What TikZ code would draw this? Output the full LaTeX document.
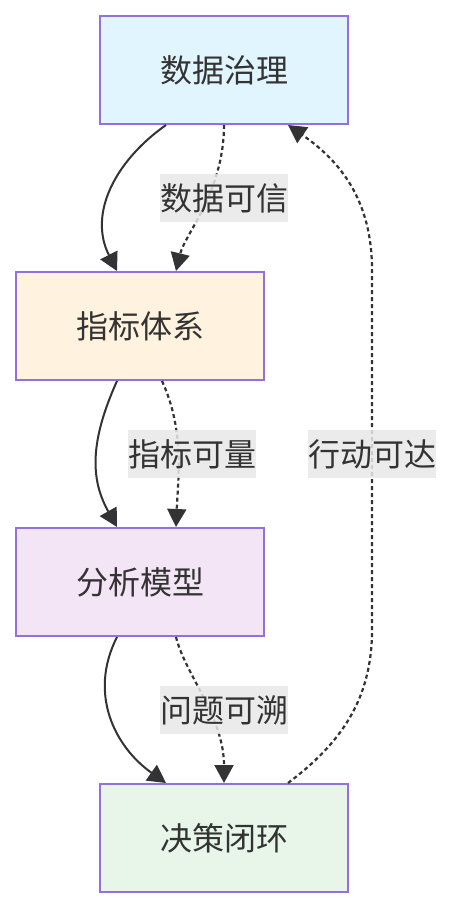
\documentclass[tikz,border=0pt]{standalone}
\usepackage{fontspec}
\newfontfamily\cjk{Noto Sans CJK SC}
\usetikzlibrary{arrows.meta,calc}
\definecolor{txt}{HTML}{333333}
\definecolor{edge}{HTML}{333333}
\definecolor{bord}{HTML}{9370DB}
\definecolor{fa}{HTML}{E1F5FE}
\definecolor{fb}{HTML}{FFF3E0}
\definecolor{fc}{HTML}{F3E5F5}
\definecolor{fd}{HTML}{E8F5E9}
\definecolor{lbg}{HTML}{E8E8E8}
\tikzset{
  box/.style={draw=bord, line width=2pt, rectangle, minimum width=248pt, minimum height=108pt, inner sep=0pt, text=txt, font=\cjk\fontsize{32}{38}\selectfont},
  solidedge/.style={draw=edge, line width=2pt, arrows={-Triangle[length=18pt,width=19pt]}},
  dotedge/.style={draw=edge, line width=2.2pt, dash pattern=on 4pt off 3pt, arrows={-Triangle[length=18pt,width=19pt]}},
  elabel/.style={fill=lbg, fill opacity=0.85, text opacity=1, text=txt, inner sep=0pt, minimum height=48pt, font=\cjk\fontsize{32}{38}\selectfont}
}
\begin{document}
\begin{tikzpicture}[x=1pt,y=-1pt]
\useasboundingbox (0,0) rectangle (453,908);
\node[box, fill=fa] (A) at (224,70) {数据治理};
\node[box, fill=fb] (B) at (140,326) {指标体系};
\node[box, fill=fc] (C) at (140,582) {分析模型};
\node[box, fill=fd] (D) at (224,838) {决策闭环};
% A -> B
\draw[solidedge] ($(A.south)+(-58,0)$) .. controls ($(A.south)+(-109,36)$) and ($(B.north)+(-52,-57)$) .. ($(B.north)+(-23,0)$);
\draw[dotedge] (A.south) .. controls ($(A.south)+(0,66)$) and ($(B.north)+(45,-37)$) .. ($(B.north)+(36,0)$);
% B -> C
\draw[solidedge] ($(B.south)+(-23,0)$) .. controls ($(B.south)+(-50,60)$) and ($(C.north)+(-50,-48)$) .. ($(C.north)+(-23,0)$);
\draw[dotedge] ($(B.south)+(22,0)$) .. controls ($(B.south)+(45,50)$) and ($(C.north)+(38,-48)$) .. ($(C.north)+(36,0)$);
% C -> D
\draw[solidedge] ($(C.south)+(-23,0)$) .. controls ($(C.south)+(-52,57)$) and ($(D.north)+(-109,-36)$) .. ($(D.north)+(-58,0)$);
\draw[dotedge] ($(C.south)+(36,0)$) .. controls ($(C.south)+(45,37)$) and ($(D.north)+(0,-66)$) .. (D.north);
% D -> A
\coordinate (r1) at (372,630);
\coordinate (r2) at (372,270);
\draw[dotedge] ($(D.north)+(64,0)$) .. controls ($(D.north)+(116,-39)$) and ($(r1)+(0,70)$) .. (r1) -- (r2) .. controls ($(r2)+(0,-70)$) and ($(A.south)+(116,36)$) .. ($(A.south)+(64,0)$);
% labels
\node[elabel] (l1) at (224,198) {数据可信};
\node[elabel] (l2) at (192,454) {指标可量};
\node[elabel] (l3) at (224,710) {问题可溯};
\node[elabel] (l4) at (372,454) {行动可达};
\end{tikzpicture}
\end{document}
